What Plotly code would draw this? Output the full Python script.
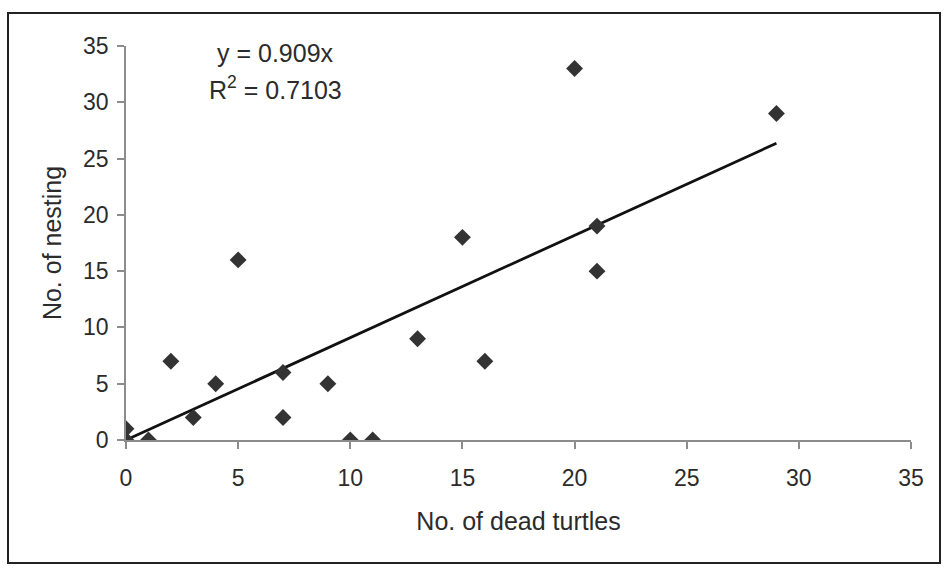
import numpy as np
import plotly.graph_objects as go

# Dead turtles vs. nesting counts
dead_turtles = [0, 0, 1, 2, 3, 4, 5, 7, 7, 9, 10, 11, 13, 15, 16, 20, 21, 21, 29]
nesting = [1, 0, 0, 7, 2, 5, 16, 6, 2, 5, 0, 0, 9, 18, 7, 33, 19, 15, 29]
tick_vals = [0, 5, 10, 15, 20, 25, 30, 35]

# Trendline through the origin, as reported
trend_slope = 0.909
r_squared = 0.7103

line_x = np.array([0.0, max(dead_turtles)])
line_y = trend_slope * line_x

FONT = "Liberation Sans, Arial, sans-serif"
TEXT = "#2b2b2b"
AXIS_GREY = "#8c8c8c"
FS = 23
FS_TITLE = 25

fig = go.Figure()
fig.add_trace(go.Scatter(
    x=line_x, y=line_y, mode="lines",
    line=dict(color="#111111", width=2.8),
    hoverinfo="skip", showlegend=False,
))
fig.add_trace(go.Scatter(
    x=dead_turtles, y=nesting, mode="markers",
    marker=dict(symbol="diamond", size=13, color="#333333"),
    showlegend=False,
))

axis_common = dict(
    range=[0, 35], tickvals=tick_vals, showgrid=False, zeroline=False,
    showline=True, linecolor=AXIS_GREY, linewidth=1.5,
    ticks="outside", ticklen=7, tickcolor=AXIS_GREY, tickwidth=1.5,
    tickfont=dict(family=FONT, size=FS, color=TEXT),
)

fig.update_xaxes(
    **axis_common,
    ticklabelstandoff=10,
    title=dict(text="No. of dead turtles", font=dict(family=FONT, size=FS_TITLE, color=TEXT),
               standoff=22),
)
fig.update_yaxes(
    **axis_common,
    ticklabelstandoff=4,
    title=dict(text="No. of nesting", font=dict(family=FONT, size=FS_TITLE, color=TEXT),
               standoff=14),
)

# Plot-area placement in pixels
L, R, T, B = 126, 911, 46, 440
W, H = 946, 572
pw, ph = R - L, B - T
def px(xp):
    return (xp - L) / pw
def py(yp):
    return (B - yp) / ph

fig.add_annotation(
    x=px(275), y=py(53), xref="paper", yref="paper", showarrow=False,
    text=f"y = {trend_slope:.3f}x",
    font=dict(family=FONT, size=FS_TITLE, color=TEXT),
    xanchor="center", yanchor="middle",
)
fig.add_annotation(
    x=px(275), y=py(88), xref="paper", yref="paper", showarrow=False,
    text=f"R<sup>2</sup> = {r_squared:.4f}",
    font=dict(family=FONT, size=FS_TITLE, color=TEXT),
    xanchor="center", yanchor="middle",
)

# Outer chart frame
fig.add_shape(
    type="rect", xref="paper", yref="paper",
    x0=px(8), x1=px(940), y0=py(563), y1=py(13),
    line=dict(color="#222222", width=2), layer="below",
)

fig.update_layout(
    width=W, height=H,
    margin=dict(l=L, r=W - R, t=T, b=H - B),
    paper_bgcolor="white", plot_bgcolor="white",
    showlegend=False,
)

fig.write_html("out.html")
